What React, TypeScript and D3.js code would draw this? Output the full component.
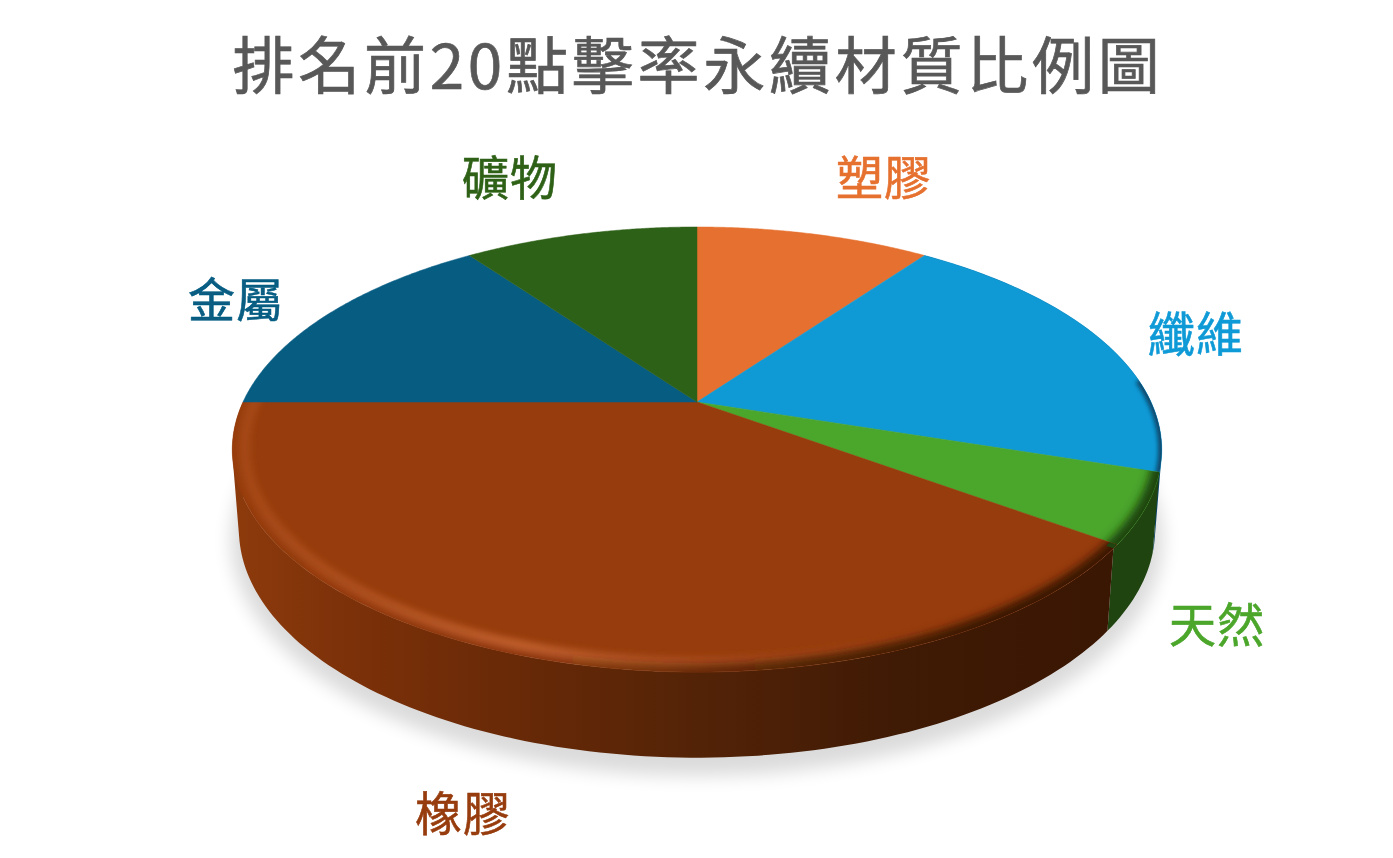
import React from "react";
import * as d3 from "d3";

const title = "排名前20點擊率永續材質比例圖";
const categories = ["塑膠", "纖維", "天然", "橡膠", "金屬", "礦物"];
const shares = [10, 20, 5, 40, 15, 10];
const topColors = ["#e6702f", "#0f9ad6", "#4ba62c", "#973c0c", "#075c82", "#2e6118"];
const sideColors = ["#7a3a14", "#0a4468", "#1f4410", "#3a1804", "#04344a", "#173209"];

const labelCenter: Record<string, [number, number]> = {
  塑膠: [884, 174],
  纖維: [1196, 330],
  天然: [1217, 621],
  橡膠: [463, 810],
  金屬: [236, 296],
  礦物: [510, 174],
};

// perspective squash of the disc: far edge is closer to the centre than the near edge
const k = 0.2135;
const cx = 697;
const project = (A: number, B: number, y0: number) => (angle: number, r = 1): [number, number] => {
  const x = r * Math.sin(angle);
  const y = r * Math.cos(angle);
  const w = 1 + k * y;
  return [cx + (A * x) / w, y0 - (B * y) / w];
};
const topFace = project(454, 212.4, 402);
const bottomFace = project(447.5, 217.6, 481);

const line = d3.line();
const arcPoints = (f: (a: number, r?: number) => [number, number], a0: number, a1: number, r = 1, n = 120) =>
  d3.range(0, n + 1).map((i) => f(a0 + ((a1 - a0) * i) / n, r));

const wedges = d3.pie<number>().sort(null).startAngle(0).endAngle(2 * Math.PI)(shares);
const color = d3.scaleOrdinal<string, string>().domain(categories).range(topColors);
const side = d3.scaleOrdinal<string, string>().domain(categories).range(sideColors);

const wedgePath = (a0: number, a1: number) =>
  line([topFace(0, 0), ...arcPoints(topFace, a0, a1)]) + "Z";
// the wall is a sweep of the rim: one path of thin quads, all wound the same way
// so that overlaps near the silhouette stay filled
const sidePath = (a0: number, a1: number) => {
  const n = Math.ceil((a1 - a0) / 0.02);
  return d3
    .range(0, n)
    .map((i) => {
      const s = a0 + ((a1 - a0) * i) / n;
      const e = a0 + ((a1 - a0) * (i + 1)) / n;
      const quad = [topFace(s), topFace(e), bottomFace(e), bottomFace(s)];
      return line(d3.polygonArea(quad) < 0 ? quad.reverse() : quad) + "Z";
    })
    .join("");
};
const deg = (d: number) => (d * Math.PI) / 180;
const rimPath = (from: number, r: number) => line(arcPoints(topFace, deg(from), deg(290), r));
const seamPatch = (a0: number, a1: number) =>
  line([...arcPoints(topFace, a0, a1, 1, 8), ...arcPoints(topFace, a1, a0, 0.985, 8)]) + "Z";

const gx = d3.scaleLinear().domain([232, 1162]).range([0, 100]);
const sideStops: [number, string][] = [
  [240, "#8c3a0c"],
  [350, "#7c3109"],
  [500, "#6a2a07"],
  [700, "#532307"],
  [900, "#3f1a05"],
  [1110, "#3a1703"],
];
const glowStops: [number, number][] = [
  [232, 0.22],
  [350, 0.42],
  [520, 0.85],
  [640, 0.6],
  [800, 0.3],
  [960, 0],
];
const shadeStops: [number, number][] = [
  [232, 0],
  [560, 0.2],
  [800, 0.75],
  [1000, 1],
  [1162, 1],
];
const seam = deg(0.9);

export default function App() {
  const sideKeys = [1, 2, 3];
  return (
    <svg
      width={1393}
      height={858}
      style={{ position: "absolute", left: 0, top: 0, display: "block", background: "#fff" }}
      fontFamily="'Noto Sans CJK TC', 'Noto Sans', sans-serif"
    >
      <defs>
        <filter id="shadowBlur" x="-10%" y="-10%" width="120%" height="120%">
          <feGaussianBlur stdDeviation="9" />
        </filter>
        <filter id="rimBlur" x="-5%" y="-5%" width="110%" height="110%">
          <feGaussianBlur stdDeviation="4.5" />
        </filter>
        <filter id="thinBlur" x="-5%" y="-5%" width="110%" height="110%">
          <feGaussianBlur stdDeviation="2" />
        </filter>
        <filter id="glowBlur" x="-5%" y="-5%" width="110%" height="110%">
          <feGaussianBlur stdDeviation="3.2" />
        </filter>
        <filter id="soft" x="-5%" y="-20%" width="110%" height="140%">
          <feGaussianBlur stdDeviation="0.6" />
        </filter>
        <linearGradient id="rubberSide" gradientUnits="userSpaceOnUse" x1={232} x2={1162} y1={0} y2={0}>
          {sideStops.map(([x, c]) => (
            <stop key={x} offset={`${gx(x)}%`} stopColor={c} />
          ))}
        </linearGradient>
        <linearGradient id="glow" gradientUnits="userSpaceOnUse" x1={232} x2={1162} y1={0} y2={0}>
          {glowStops.map(([x, o]) => (
            <stop key={x} offset={`${gx(x)}%`} stopColor="#cf6a34" stopOpacity={o} />
          ))}
        </linearGradient>
        {categories.map((c, i) => (
          <linearGradient key={c} id={`shade${i}`} gradientUnits="userSpaceOnUse" x1={232} x2={1162} y1={0} y2={0}>
            {shadeStops.map(([x, o]) => (
              <stop key={x} offset={`${gx(x)}%`} stopColor={side(c)} stopOpacity={o} />
            ))}
          </linearGradient>
        ))}
        {wedges.map((w, i) => (
          <clipPath key={i} id={`wedge${i}`}>
            <path d={wedgePath(w.startAngle, w.endAngle)} />
          </clipPath>
        ))}
      </defs>

      {/* ground shadow */}
      <ellipse cx={cx} cy={540} rx={466} ry={236} fill="#000" opacity={0.14} filter="url(#shadowBlur)" />

      {/* side walls, back to front; the rubber wall starts a little past the wedge corner */}
      {sideKeys.map((i) => (
        <path
          key={i}
          d={sidePath(
            wedges[i].startAngle + (i === 3 ? seam : 0),
            wedges[i].endAngle + (i === 2 ? seam : 0)
          )}
          fill={i === 3 ? "url(#rubberSide)" : side(categories[i])}
        />
      ))}

      {/* top face with its bevelled rim */}
      {wedges.map((w, i) => (
        <g key={i}>
          <path
            d={wedgePath(w.startAngle, w.endAngle)}
            fill={color(categories[i])}
            stroke={color(categories[i])}
            strokeWidth={0.5}
          />
          <g clipPath={`url(#wedge${i})`}>
            {i === 3 && (
              <path d={rimPath(72, 0.975)} fill="none" stroke="url(#glow)" strokeWidth={12} filter="url(#glowBlur)" />
            )}
            {i === 1 && (
              <path d={rimPath(84, 1)} fill="none" stroke={`url(#shade${i})`} strokeWidth={7} filter="url(#thinBlur)" />
            )}
            {(i === 2 || i === 3) && (
              <path d={rimPath(72, 1)} fill="none" stroke={`url(#shade${i})`} strokeWidth={18} filter="url(#rimBlur)" />
            )}
          </g>
        </g>
      ))}
      <path d={seamPatch(wedges[3].startAngle, wedges[3].startAngle + seam)} fill={side(categories[2])} />

      {/* labels */}
      <g filter="url(#soft)">
        <text
          x={cx + 1}
          y={62}
          textAnchor="middle"
          dominantBaseline="central"
          fontSize={62}
          letterSpacing={3.75}
          fill="#595959"
          stroke="#595959"
          strokeWidth={0.7}
        >
          {title}
        </text>
        {categories.map((c) => (
          <text
            key={c}
            x={labelCenter[c][0]}
            y={labelCenter[c][1]}
            textAnchor="middle"
            dominantBaseline="central"
            fontSize={47}
            letterSpacing={1}
            fill={color(c)}
            stroke={color(c)}
            strokeWidth={0.6}
          >
            {c}
          </text>
        ))}
      </g>
    </svg>
  );
}
